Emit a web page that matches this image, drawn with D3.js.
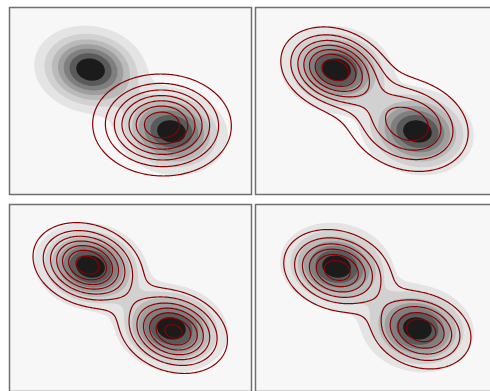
<!DOCTYPE html>
<html><head><meta charset="utf-8">
<script src="https://cdn.jsdelivr.net/npm/d3@7"></script>
<style>body{margin:0;background:#fff}svg{display:block}</style>
</head><body>
<svg id="c" width="490" height="391"></svg>
<script>
// ---- data ----
const panels = ["a", "b", "c", "d"];
const panelCol = [0, 1, 0, 1];
const panelRow = [0, 0, 1, 1];
const domainX = [0, 242];
const domainY = [0, 187];

// shaded (target) mixture, same in every panel
const fillMeanX = [81, 162];
const fillMeanY = [62, 124];
const fillSdX = [27.6, 27.6];
const fillSdY = [21.5, 21.5];
const fillRho = [0.1, 0.1];
const fillWeight = [0.5, 0.5];
const fillPeakSteps = 8;
const fillColors = ["#e4e4e4", "#d1d1d1", "#bababa", "#9e9e9e", "#7f7f7f", "#5a5a5a", "#1b1b1b"];

// red contour mixture per panel
const redMeanX = [[152.5], [79, 152.5], [78, 164], [81.7, 165.7]];
const redMeanY = [[117.5], [62, 117], [60.5, 127], [66, 126]];
const redSdX = [[34], [26.5, 34], [27, 27], [27.4, 26.5]];
const redSdY = [[25], [21, 26.5], [21, 21], [21, 20.5]];
const redRho = [[0.02], [0.2, 0.18], [0.2, 0.2], [0.18, 0.18]];
const redWeight = [[1], [0.5, 0.5], [0.51, 0.49], [0.55, 0.45]];
const redPeakSteps = [8, 7.9, 7.67, 6.7];

// ---- layout ----
const panelW = 242, panelH = 187;
const originX = 9.5, originY = 7.5, gapX = 246, gapY = 197;

const svg = d3.select("#c");

function mixture(mx, my, sx, sy, rho, w) {
  return (x, y) => {
    let s = 0;
    for (let k = 0; k < mx.length; k++) {
      const dx = (x - mx[k]) / sx[k], dy = (y - my[k]) / sy[k];
      const r = rho[k], q = 1 - r * r;
      s += w[k] / (2 * Math.PI * sx[k] * sy[k] * Math.sqrt(q)) *
        Math.exp(-(dx * dx - 2 * r * dx * dy + dy * dy) / (2 * q));
    }
    return s;
  };
}

const n = 242, m = 187;
function grid(f) {
  const vals = new Float64Array(n * m);
  const gx = d3.scaleLinear().domain([0, n]).range(domainX);
  const gy = d3.scaleLinear().domain([0, m]).range(domainY);
  for (let j = 0; j < m; j++)
    for (let i = 0; i < n; i++)
      vals[j * n + i] = f(gx(i + 0.5), gy(j + 0.5));
  return vals;
}

const fillF = mixture(fillMeanX, fillMeanY, fillSdX, fillSdY, fillRho, fillWeight);
const fillVals = grid(fillF);
const fillMax = d3.max(fillVals);
const fillThr = d3.range(1, fillColors.length + 1).map(k => k * fillMax / fillPeakSteps);
const fillContours = d3.contours().size([n, m]).thresholds(fillThr)(Array.from(fillVals));

panels.forEach((id, p) => {
  const x0 = originX + panelCol[p] * gapX, y0 = originY + panelRow[p] * gapY;
  const xs = d3.scaleLinear().domain(domainX).range([x0, x0 + panelW]);
  const ys = d3.scaleLinear().domain(domainY).range([y0, y0 + panelH]);
  const gxs = d3.scaleLinear().domain([0, n]).range(domainX);
  const gys = d3.scaleLinear().domain([0, m]).range(domainY);
  const path = d3.geoPath(d3.geoTransform({
    point(x, y) { this.stream.point(xs(gxs(x)), ys(gys(y))); }
  }));

  const g = svg.append("g");
  g.append("clipPath").attr("id", "clip-" + id).append("rect")
    .attr("x", x0).attr("y", y0).attr("width", panelW).attr("height", panelH);
  g.append("rect").attr("x", x0).attr("y", y0).attr("width", panelW).attr("height", panelH)
    .attr("fill", "#f7f7f7");

  const inner = g.append("g").attr("clip-path", `url(#clip-${id})`);
  inner.selectAll("path.fill").data(fillContours).join("path")
    .attr("class", "fill").attr("d", path)
    .attr("fill", (d, i) => fillColors[i]).attr("stroke", "none");

  const rf = mixture(redMeanX[p], redMeanY[p], redSdX[p], redSdY[p], redRho[p], redWeight[p]);
  const rv = grid(rf);
  const rmax = d3.max(rv);
  const nLev = Math.floor(redPeakSteps[p]);
  const rThr = d3.range(1, nLev + 1).map(k => k * rmax / redPeakSteps[p]);
  const rc = d3.contours().size([n, m]).thresholds(rThr)(Array.from(rv));
  inner.selectAll("path.red").data(rc).join("path")
    .attr("class", "red").attr("d", path)
    .attr("fill", "none").attr("stroke", "#8b0000").attr("stroke-width", 1.2);

  g.append("rect").attr("x", x0).attr("y", y0).attr("width", panelW).attr("height", panelH)
    .attr("fill", "none").attr("stroke", "#6f6f6f").attr("stroke-width", 1.5);
});
</script>
</body></html>
